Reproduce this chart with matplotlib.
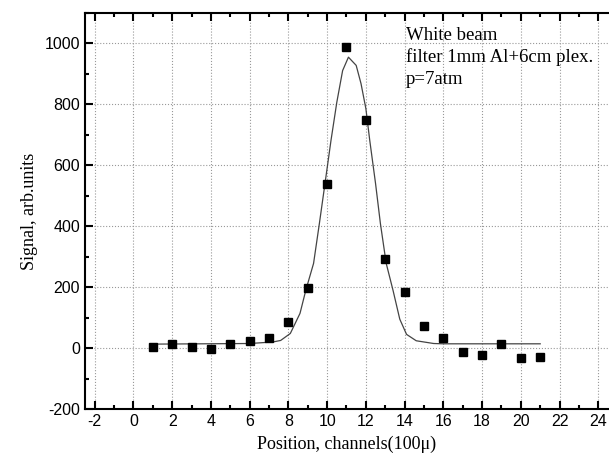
import numpy as np
import matplotlib.pyplot as plt
from matplotlib.ticker import MultipleLocator

# measured points (channel, signal)
channels = [1, 2, 3, 4, 5, 6, 7, 8, 9, 10, 11, 12, 13, 14, 15, 16, 17, 18, 19, 20, 21]
signal = [2, 12, 3, -2, 12, 22, 33, 84, 198, 540, 988, 748, 291, 185, 73, 34,
          -13, -22, 15, -33, -30]

# fitted curve
fit_x = [1, 6, 7.2, 7.6, 8.1, 8.6, 8.9, 9.3, 9.6, 9.9, 10.2, 10.5, 10.8, 11.1,
         11.5, 11.75, 12.0, 12.2, 12.5, 12.75, 13.05, 13.4, 13.75, 14.1, 14.6,
         15.5, 16, 21]
fit_y = [13, 15, 20, 25, 48, 114, 190, 278, 409, 545, 682, 807, 911, 955,
         928, 868, 786, 682, 540, 409, 278, 190, 95, 45, 24, 15, 14, 14]

note_lines = ['White beam', 'filter 1mm Al+6cm plex.', 'p=7atm']

plt.rcParams['font.family'] = ['Liberation Sans', 'DejaVu Sans']
plt.rcParams['axes.unicode_minus'] = False

W, H = 609, 459
fig = plt.figure(figsize=(W / 100, H / 100), dpi=100)
ax = fig.add_axes([85 / W, 50 / H, (608 - 85) / W, (409 - 13) / H])

ax.plot(fit_x, fit_y, '-', color='#444444', lw=0.9)
ax.plot(channels, signal, 's', color='black', ms=5.8, mec='black')

ax.set_xlim(-2.5, 24.5)
ax.set_ylim(-200, 1100)
ax.xaxis.set_major_locator(MultipleLocator(2))
ax.xaxis.set_minor_locator(MultipleLocator(1))
ax.yaxis.set_major_locator(MultipleLocator(200))
ax.yaxis.set_minor_locator(MultipleLocator(100))

ax.grid(True, which='major', linestyle=':', color='#999999', lw=0.8)
ax.tick_params(which='both', direction='in', top=True, right=False,
               width=1.5, labelsize=11.5)
ax.tick_params(which='major', length=6)
ax.tick_params(which='minor', length=3)
for side in ['left', 'bottom', 'top']:
    ax.spines[side].set_linewidth(1.5)
ax.spines['right'].set_visible(False)

serif = ['Liberation Serif', 'DejaVu Serif']
ax.set_xlabel('Position, channels(100\u03bc)', family=serif, fontsize=13, labelpad=5)
ax.set_ylabel('Signal, arb.units', family=serif, fontsize=13, labelpad=5)

for i, line in enumerate(note_lines):
    fig.text(406 / W, 1 - (35 + i * 22.5) / H, line, family=serif,
             fontsize=13.5, va='center', ha='left')

fig.savefig('out.png', dpi=100)
